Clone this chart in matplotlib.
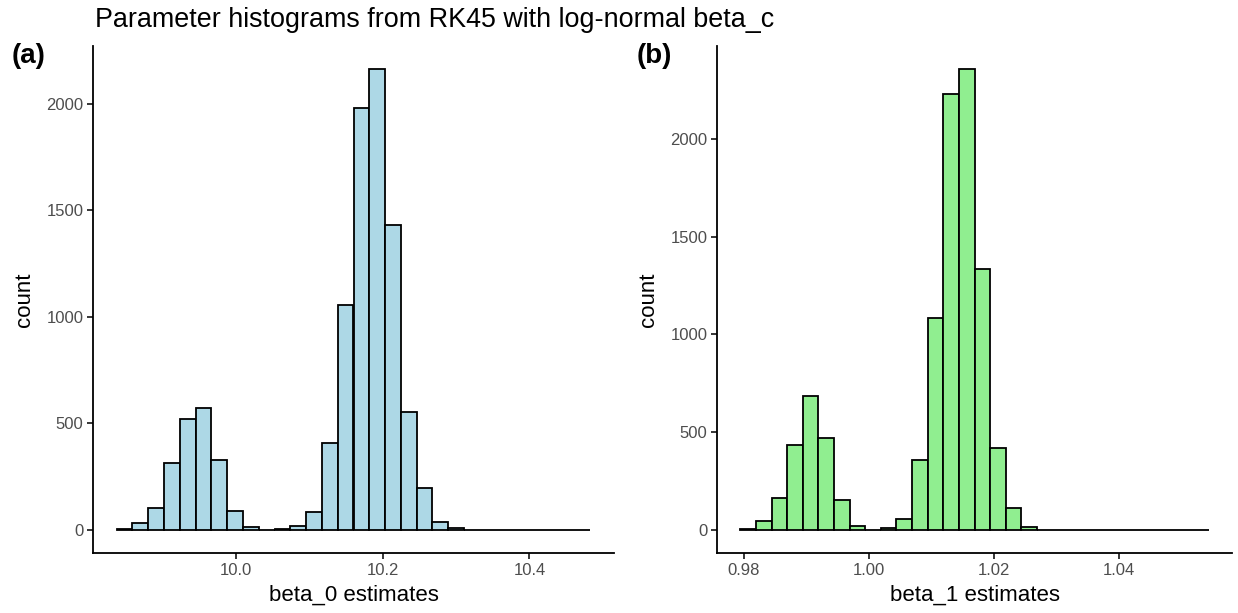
import numpy as np
import matplotlib
matplotlib.use("Agg")
import matplotlib.pyplot as plt

plt.rcParams['font.family'] = ['Liberation Sans', 'DejaVu Sans']

# bin range and counts (30 bins each)
beta0_range = (9.837, 10.483)
beta0_counts = [3, 34, 102, 313, 520, 571, 329, 89, 16, 2,
                3, 20, 86, 407, 1056, 1980, 2164, 1432, 552, 196,
                36, 8, 1, 1, 0, 1, 0, 1, 0, 1]

beta1_range = (0.97942, 1.0544)
beta1_counts = [3, 48, 165, 434, 687, 472, 153, 20, 2, 8,
                55, 358, 1082, 2232, 2358, 1334, 421, 114, 14, 2,
                1, 0, 1, 0, 0, 1, 0, 0, 1, 0]

beta0_ticks = [10.0, 10.2, 10.4]
beta0_ticklabels = ["10.0", "10.2", "10.4"]
beta1_ticks = [0.98, 1.00, 1.02, 1.04]
beta1_ticklabels = ["0.98", "1.00", "1.02", "1.04"]
count_ticks = [0, 500, 1000, 1500, 2000]

W, H = 1238, 613
fig = plt.figure(figsize=(W / 100, H / 100), dpi=100, facecolor="w")


def panel(px_left, px_right, rng, counts, color, xticks, xticklabels, xlabel):
    ax = fig.add_axes([px_left / W, 1 - 553 / H,
                       (px_right - px_left) / W, (553 - 46) / H])
    edges = np.linspace(rng[0], rng[1], len(counts) + 1)
    ax.bar(edges[:-1], counts, width=np.diff(edges), align="edge",
           color=color, edgecolor="black", linewidth=1.3)
    pad = 0.05 * (rng[1] - rng[0])
    ax.set_xlim(rng[0] - pad, rng[1] + pad)
    top = max(counts)
    ax.set_ylim(-0.05 * top, 1.05 * top)
    ax.set_xticks(xticks)
    ax.set_xticklabels(xticklabels)
    ax.set_yticks(count_ticks)
    for s in ["top", "right"]:
        ax.spines[s].set_visible(False)
    for s in ["left", "bottom"]:
        ax.spines[s].set_linewidth(1.3)
    ax.tick_params(axis="both", labelcolor="#4D4D4D", labelsize=12,
                   length=4, width=1.1, pad=3, color="black")
    ax.set_xlabel(xlabel, fontsize=16, labelpad=5)
    ax.set_ylabel("count", fontsize=16, labelpad=8)
    return ax


ax1 = panel(93, 614, beta0_range, beta0_counts, "#ADD8E6",
            beta0_ticks, beta0_ticklabels, "beta_0 estimates")
ax2 = panel(717, 1232, beta1_range, beta1_counts, "#90EE90",
            beta1_ticks, beta1_ticklabels, "beta_1 estimates")

fig.text(95 / W, 1 - 20 / H, "Parameter histograms from RK45 with log-normal beta_c",
         fontsize=19.4, va="center", ha="left")
fig.text(12 / W, 1 - 56 / H, "(a)", fontsize=20, fontweight="bold",
         va="center", ha="left")
fig.text(637 / W, 1 - 56 / H, "(b)", fontsize=20, fontweight="bold",
         va="center", ha="left")

fig.savefig("out.png", dpi=100)
